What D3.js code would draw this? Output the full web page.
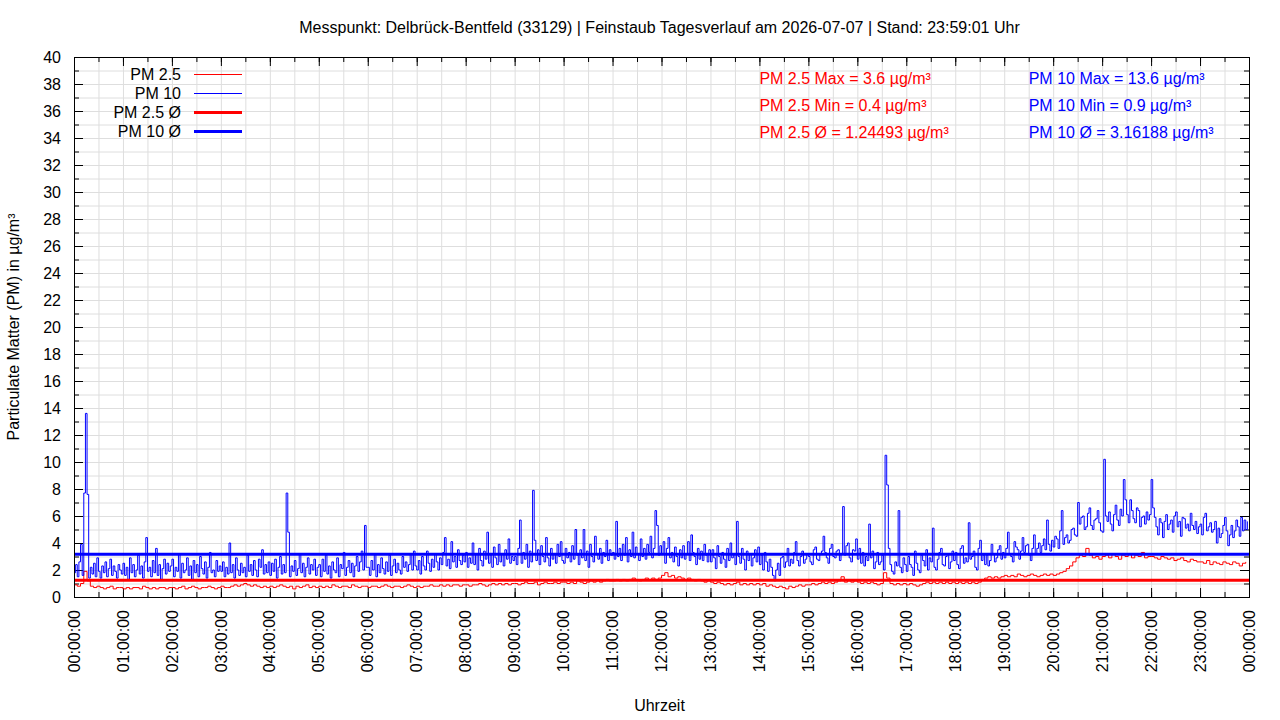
<!DOCTYPE html>
<html>
<head>
<meta charset="utf-8">
<script src="https://cdn.jsdelivr.net/npm/d3@7"></script>
<style>
  body { margin: 0; background: #fff; }
  text { font-family: "Liberation Sans", Arial, sans-serif; font-size: 16px; fill: #000; }
  .grid line { stroke: #dedede; stroke-width: 1; }
  .grid path { display: none; }
  .ax path { display: none; }
  .ax line { stroke: #000; }
</style>
</head>
<body>
<svg id="chart" width="1280" height="720"></svg>
<script>
// --- data ---
const day = "2026-07-07";
const pm10StepMinutes = 2;   // one PM10 sample every 2 minutes, one row per hour
const pm25StepMinutes = 4;   // one PM2.5 sample every 4 minutes, one row per hour

const pm10 = [
  1.8, 2.4, 1.5, 2.6, 3.9, 1.6, 7.7, 13.6, 7.6, 1.4, 2.2, 1.7, 2.5, 1.5, 2.9, 1.9, 1.4, 2.3, 1.8, 2.6, 1.5, 2.1, 2.8, 1.6, 2.3, 1.9, 1.4, 2.4, 2.0, 1.7,
  2.5, 1.6, 2.2, 1.3, 2.9, 1.8, 2.4, 1.5, 2.0, 3.1, 1.7, 2.3, 1.4, 2.6, 4.4, 1.9, 2.2, 1.5, 2.7, 1.8, 3.6, 1.6, 2.4, 1.3, 2.1, 2.8, 1.7, 2.5, 1.9, 2.3,
  2.8, 1.5, 2.2, 1.9, 3.2, 1.4, 2.5, 1.8, 2.0, 2.9, 1.6, 2.3, 1.3, 2.7, 1.8, 2.4, 1.5, 3.0, 2.1, 1.7, 2.6, 1.4, 2.2, 3.3, 1.8, 2.0, 1.5, 2.7, 1.9, 2.3,
  1.9, 2.6, 1.5, 2.2, 1.7, 4.0, 1.8, 2.4, 1.4, 2.9, 2.0, 1.6, 2.5, 1.8, 2.2, 1.5, 3.1, 1.9, 2.4, 1.6, 2.7, 2.0, 1.5, 2.8, 2.2, 3.5, 1.7, 2.4, 1.8, 2.6,
  1.6, 2.5, 1.9, 2.8, 1.4, 2.2, 3.0, 1.7, 2.4, 1.8, 7.7, 4.8, 1.5, 2.3, 1.9, 2.7, 1.6, 2.1, 3.2, 1.8, 2.5, 1.5, 2.2, 2.9, 1.7, 2.4, 2.0, 2.8, 1.6, 2.2,
  2.4, 1.5, 2.8, 1.9, 3.1, 1.7, 2.3, 1.4, 2.6, 2.0, 1.8, 2.9, 1.5, 2.4, 2.1, 3.3, 1.6, 2.2, 2.7, 1.8, 2.5, 1.5, 2.3, 3.0, 1.9, 2.6, 3.4, 2.0, 5.3, 2.2,
  2.2, 1.6, 2.7, 2.0, 3.2, 1.5, 2.4, 1.8, 2.9, 2.1, 1.7, 2.6, 1.9, 3.1, 1.6, 2.3, 2.8, 1.8, 2.5, 2.0, 1.7, 3.0, 2.2, 2.6, 1.9, 2.4, 3.2, 2.0, 3.4, 2.3,
  2.0, 2.7, 1.7, 3.0, 2.3, 2.0, 3.4, 2.5, 1.9, 2.8, 2.2, 3.2, 2.6, 2.0, 2.9, 2.4, 3.3, 4.4, 2.3, 2.8, 2.1, 4.1, 2.6, 3.0, 2.2, 3.5, 2.7, 2.4, 3.1, 2.6,
  3.3, 2.2, 2.9, 2.5, 4.0, 2.4, 3.2, 2.0, 3.6, 2.7, 2.3, 3.4, 2.8, 4.8, 2.5, 3.1, 2.2, 3.7, 2.9, 2.4, 3.9, 2.6, 3.2, 2.3, 3.5, 2.8, 4.3, 2.5, 3.0, 2.7,
  3.0, 2.4, 3.6, 5.7, 2.5, 3.3, 2.8, 3.9, 2.2, 3.4, 2.6, 7.9, 4.2, 2.7, 3.5, 2.4, 3.8, 3.0, 2.6, 4.4, 2.9, 2.3, 3.6, 2.8, 3.2, 2.5, 3.9, 3.0, 4.1, 2.7,
  2.5, 3.6, 2.9, 3.3, 2.6, 3.8, 2.8, 5.0, 3.1, 2.4, 3.5, 2.9, 5.0, 2.7, 3.4, 2.2, 3.9, 3.0, 2.6, 4.5, 3.2, 2.8, 3.6, 2.5, 3.3, 3.0, 4.2, 2.7, 3.5, 3.1,
  3.3, 2.8, 5.6, 3.0, 3.6, 2.7, 3.9, 3.1, 4.4, 2.6, 3.5, 3.0, 4.8, 2.9, 3.7, 3.2, 2.7, 4.3, 3.0, 3.6, 2.8, 3.9, 3.3, 4.5, 2.9, 3.6, 6.4, 5.3, 3.1, 3.8,
  3.2, 4.1, 2.5, 3.6, 4.4, 2.9, 3.3, 2.6, 3.7, 3.0, 2.3, 3.5, 2.9, 3.8, 2.8, 3.2, 4.1, 2.7, 4.6, 3.3, 3.0, 2.4, 3.6, 2.8, 3.4, 2.7, 3.9, 3.1, 2.6, 3.5,
  2.6, 3.5, 2.9, 2.1, 3.8, 3.0, 2.5, 3.3, 2.8, 2.2, 3.6, 2.7, 4.0, 2.9, 3.2, 2.4, 5.6, 3.0, 2.5, 3.6, 2.8, 2.0, 3.4, 2.7, 3.2, 2.3, 2.9, 3.5, 2.6, 3.7,
  2.4, 3.1, 2.0, 3.3, 2.6, 1.9, 2.8, 2.2, 1.6, 1.2, 2.0, 2.5, 1.6, 2.9, 3.0, 2.2, 2.6, 3.6, 2.3, 2.8, 2.5, 3.3, 4.1, 2.7, 2.3, 3.0, 3.4, 2.5, 2.8, 3.2,
  3.0, 2.6, 2.4, 3.5, 3.7, 2.8, 2.7, 3.2, 3.4, 4.5, 3.3, 2.9, 2.5, 3.6, 3.9, 3.0, 2.9, 3.4, 3.5, 2.7, 3.2, 6.7, 3.1, 3.8, 4.0, 2.9, 2.6, 3.5, 3.4, 4.3,
  2.8, 3.6, 2.5, 3.3, 2.3, 3.0, 2.7, 5.4, 2.9, 3.4, 2.1, 2.6, 3.3, 2.4, 2.6, 3.1, 2.0, 10.5, 8.3, 3.6, 2.4, 1.9, 1.7, 2.6, 2.3, 6.4, 2.2, 1.8, 2.9, 2.4,
  1.9, 3.0, 2.4, 2.2, 1.6, 3.4, 2.5, 2.0, 1.8, 3.1, 2.7, 2.3, 3.5, 2.0, 2.9, 2.6, 5.1, 2.2, 2.0, 2.8, 3.3, 3.6, 2.4, 2.3, 3.0, 3.2, 2.1, 2.6, 3.4, 2.7,
  3.3, 2.4, 2.1, 3.6, 3.8, 2.5, 2.9, 2.6, 5.5, 2.8, 3.0, 3.4, 2.2, 2.0, 3.6, 4.2, 2.7, 3.1, 2.4, 3.1, 2.3, 2.7, 3.9, 3.2, 2.6, 2.9, 3.5, 3.8, 2.8, 3.3,
  2.9, 3.6, 4.8, 3.2, 3.0, 2.6, 4.1, 3.7, 3.5, 2.8, 3.4, 4.4, 3.3, 3.8, 3.9, 3.1, 2.7, 3.6, 4.6, 3.2, 3.6, 4.0, 3.3, 3.8, 4.3, 3.5, 5.7, 3.9, 3.4, 4.2,
  3.7, 4.5, 4.3, 3.6, 4.9, 6.4, 3.9, 4.4, 4.6, 4.0, 4.2, 5.0, 5.1, 4.6, 4.5, 7.0, 5.4, 5.9, 6.0, 5.0, 5.2, 6.2, 6.6, 5.3, 5.0, 5.7, 5.8, 6.4, 5.5, 4.9,
  4.8, 10.2, 6.0, 5.6, 6.3, 5.4, 4.9, 6.1, 6.8, 5.7, 5.3, 6.5, 6.0, 8.7, 7.2, 6.1, 5.5, 7.2, 6.4, 5.8, 5.5, 6.6, 6.4, 5.2, 5.9, 6.0, 5.4, 6.3, 5.7, 6.1,
  8.7, 6.6, 5.9, 5.2, 4.6, 5.8, 5.5, 4.4, 5.6, 6.1, 5.0, 5.4, 5.7, 4.8, 6.0, 6.3, 5.2, 5.6, 4.5, 5.9, 5.8, 5.1, 5.4, 4.9, 6.2, 5.3, 5.0, 5.6, 4.7, 5.2,
  5.4, 4.6, 5.9, 6.2, 4.9, 5.2, 5.5, 4.8, 5.0, 5.6, 4.0, 5.1, 4.4, 4.7, 5.3, 5.9, 4.9, 3.8, 4.6, 5.3, 4.4, 4.9, 5.7, 5.2, 4.5, 5.9, 4.9, 5.7, 5.0, 5.6
];

const pm25 = [
  0.9, 0.8, 1.0, 1.9, 1.2, 0.8, 0.7, 0.8, 0.7, 0.6, 0.7, 0.8, 0.6, 0.7, 0.7,
  0.6, 0.7, 0.6, 0.7, 0.7, 0.6, 0.8, 0.7, 0.6, 0.7, 0.6, 0.7, 0.7, 0.6, 0.7,
  0.7, 0.6, 0.7, 0.8, 0.6, 0.7, 0.8, 0.7, 0.6, 0.7, 0.7, 0.8, 0.7, 0.6, 0.7,
  0.8, 0.7, 0.7, 0.8, 0.9, 0.8, 0.9, 1.0, 0.9, 0.8, 0.9, 0.8, 0.7, 0.8, 0.7,
  0.8, 0.7, 0.8, 0.9, 0.8, 0.7, 0.8, 0.6, 0.8, 0.7, 0.8, 0.9, 0.7, 0.8, 0.7,
  0.8, 0.7, 0.8, 0.7, 0.9, 0.8, 0.7, 0.8, 0.8, 0.7, 0.9, 0.8, 0.7, 0.8, 0.8,
  0.7, 0.8, 0.8, 0.7, 0.8, 0.9, 0.8, 0.7, 0.8, 0.8, 0.7, 0.8, 0.9, 0.8, 0.7,
  0.8, 0.7, 0.8, 0.8, 0.9, 0.8, 0.8, 0.9, 0.8, 0.9, 0.8, 0.9, 0.9, 0.8, 0.9,
  0.9, 0.8, 0.9, 0.9, 1.0, 0.9, 0.8, 0.9, 1.0, 0.9, 1.0, 0.9, 1.0, 0.9, 1.0,
  1.0, 0.9, 1.0, 1.1, 1.0, 1.0, 1.1, 0.9, 1.0, 1.1, 1.0, 1.0, 1.1, 1.0, 1.1,
  1.1, 1.0, 1.1, 1.0, 1.2, 1.1, 1.0, 1.1, 1.2, 1.1, 1.2, 1.1, 1.2, 1.3, 1.2,
  1.2, 1.3, 1.2, 1.3, 1.2, 1.3, 1.4, 1.3, 1.2, 1.3, 1.4, 1.3, 1.4, 1.3, 1.4,
  1.6, 1.8, 1.5, 1.6, 1.4, 1.5, 1.4, 1.3, 1.4, 1.3, 1.2, 1.3, 1.2, 1.1, 1.2,
  1.1, 1.0, 1.1, 1.0, 0.9, 1.0, 0.9, 1.0, 1.1, 0.9, 1.0, 0.9, 1.0, 0.9, 1.0,
  0.9, 1.0, 0.8, 0.9, 0.8, 0.7, 0.8, 0.7, 0.6, 0.8, 0.7, 0.8, 0.9, 0.8, 0.9,
  0.9, 1.0, 0.9, 1.0, 1.1, 1.0, 1.1, 1.0, 1.1, 1.2, 1.5, 1.1, 1.2, 1.1, 1.2,
  1.1, 1.0, 1.1, 1.0, 1.1, 1.0, 0.9, 1.0, 1.8, 1.4, 1.0, 0.9, 1.0, 0.9, 1.0,
  0.9, 1.0, 0.9, 0.8, 0.9, 1.0, 1.1, 1.0, 1.1, 1.0, 1.1, 1.0, 1.1, 1.0, 1.1,
  1.0, 1.1, 1.0, 1.1, 1.0, 1.1, 1.0, 1.1, 1.3, 1.4, 1.5, 1.4, 1.5, 1.4, 1.5,
  1.6, 1.5, 1.6, 1.5, 1.7, 1.6, 1.5, 1.6, 1.7, 1.6, 1.5, 1.6, 1.7, 1.6, 1.7,
  1.6, 1.7, 1.8, 1.9, 2.1, 2.3, 2.6, 2.9, 3.1, 3.0, 3.6, 3.1, 2.9, 3.0, 2.8,
  3.0, 3.1, 2.9, 3.2, 3.0, 2.8, 3.1, 3.0, 3.2, 2.9, 3.1, 3.0, 3.3, 2.9, 3.0,
  3.0, 2.9, 2.8, 3.0, 2.9, 2.8, 2.9, 2.7, 2.8, 2.9, 2.7, 2.6, 2.8, 2.7, 2.6,
  2.6, 2.5, 2.7, 2.4, 2.6, 2.5, 2.4, 2.6, 2.5, 2.4, 2.6, 2.5, 2.3, 2.5, 2.6
];

const pm25Avg = 1.24493;
const pm10Avg = 3.16188;

const pm25Stats = ["PM 2.5 Max = 3.6 µg/m³", "PM 2.5 Min = 0.4 µg/m³", "PM 2.5 Ø = 1.24493 µg/m³"];
const pm10Stats = ["PM 10 Max = 13.6 µg/m³", "PM 10 Min = 0.9 µg/m³", "PM 10 Ø = 3.16188 µg/m³"];
const legendLabels = ["PM 2.5", "PM 10", "PM 2.5 Ø", "PM 10 Ø"];

const title = "Messpunkt: Delbrück-Bentfeld (33129) | Feinstaub Tagesverlauf am " + day + " | Stand: 23:59:01 Uhr";

// --- layout ---
var margin = {top: 57, right: 31, bottom: 123, left: 74};
var width = 1280 - margin.left - margin.right;
var height = 720 - margin.top - margin.bottom;

var svg = d3.select("#chart");
var g = svg.append("g").attr("transform", `translate(${margin.left},${margin.top})`);

var t0 = d3.timeParse("%Y-%m-%d")(day);
var t1 = d3.timeDay.offset(t0, 1);

var x = d3.scaleTime().domain([t0, t1]).range([0, width]);
var y = d3.scaleLinear().domain([0, 40]).range([height, 0]);

var hourTicks = d3.timeHour.every(1).range(t0, d3.timeMinute.offset(t1, 1));
var halfTicks = d3.timeMinute.every(30).range(t0, d3.timeMinute.offset(t1, 1));
var yMajor = d3.range(0, 41, 2);
var yMinor = d3.range(0, 41, 1);

// grid
g.append("g").attr("class", "grid")
  .attr("transform", `translate(0,${height})`)
  .call(d3.axisBottom(x).tickValues(halfTicks.slice(1, -1)).tickSize(-height).tickFormat(""));
g.append("g").attr("class", "grid")
  .call(d3.axisLeft(y).tickValues(yMinor.slice(1, -1)).tickSize(-width).tickFormat(""));

// ticks, all four sides, pointing in
g.append("g").attr("class", "ax").attr("transform", `translate(0,${height})`)
  .call(d3.axisBottom(x).tickValues(halfTicks).tickSize(-5).tickFormat(""));
g.append("g").attr("class", "ax").attr("transform", `translate(0,0)`)
  .call(d3.axisTop(x).tickValues(halfTicks).tickSize(-5).tickFormat(""));
g.append("g").attr("class", "ax")
  .call(d3.axisLeft(y).tickValues(yMinor).tickSize(-5).tickFormat(""));
g.append("g").attr("class", "ax").attr("transform", `translate(${width},0)`)
  .call(d3.axisRight(y).tickValues(yMinor).tickSize(-5).tickFormat(""));

var xAxis = g.append("g").attr("class", "ax").attr("transform", `translate(0,${height})`)
  .call(d3.axisBottom(x).tickValues(hourTicks).tickSize(-9).tickFormat(d3.timeFormat("%H:%M:%S")));
xAxis.selectAll("text")
  .attr("transform", "rotate(-90)")
  .attr("text-anchor", "end")
  .attr("x", -13)
  .attr("y", 0)
  .attr("dy", "0.32em");
g.append("g").attr("class", "ax")
  .call(d3.axisTop(x).tickValues(hourTicks).tickSize(-9).tickFormat(""));
g.append("g").attr("class", "ax")
  .call(d3.axisLeft(y).tickValues(yMajor).tickSize(-9).tickPadding(13));
g.append("g").attr("class", "ax").attr("transform", `translate(${width},0)`)
  .call(d3.axisRight(y).tickValues(yMajor).tickSize(-9).tickFormat(""));

g.selectAll(".ax text").style("font-size", "16px").style("fill", "#000")
  .style("font-family", '"Liberation Sans", Arial, sans-serif');

// series (each reading held until the next one)
const stepLine = step => d3.line()
  .curve(d3.curveStepAfter)
  .x((d, i) => x(d3.timeMinute.offset(t0, i * step)))
  .y(d => y(d));

g.append("path").datum(pm25)
  .attr("fill", "none").attr("stroke", "#ff0000").attr("stroke-width", 1)
  .attr("d", stepLine(pm25StepMinutes));
g.append("path").datum(pm10)
  .attr("fill", "none").attr("stroke", "#0000ff").attr("stroke-width", 1)
  .attr("d", stepLine(pm10StepMinutes));

// averages
[[pm25Avg, "#ff0000"], [pm10Avg, "#0000ff"]].forEach(([v, c]) => {
  g.append("line")
    .attr("x1", x(t0)).attr("x2", x(t1))
    .attr("y1", y(v)).attr("y2", y(v))
    .attr("stroke", c).attr("stroke-width", 3);
});

// border
g.append("rect")
  .attr("x", 0.5).attr("y", 0.5)
  .attr("width", width).attr("height", height)
  .attr("fill", "none").attr("stroke", "#000").attr("stroke-width", 1);

// legend
var legendStyle = [
  {c: "#ff0000", w: 1}, {c: "#0000ff", w: 1}, {c: "#ff0000", w: 3}, {c: "#0000ff", w: 3}
];
var legend = svg.append("g");
legendLabels.forEach((lab, i) => {
  var cy = 74 + i * 19;
  legend.append("text")
    .attr("x", 181).attr("y", cy).attr("dy", "0.35em")
    .attr("text-anchor", "end").text(lab);
  legend.append("line")
    .attr("x1", 194).attr("x2", 242)
    .attr("y1", cy + 0.5).attr("y2", cy + 0.5)
    .attr("stroke", legendStyle[i].c).attr("stroke-width", legendStyle[i].w);
});

// statistics labels
var statX25 = d3.timeHour.offset(t0, 14);
var statX10 = d3.timeMinute.offset(t0, 19 * 60 + 30);
[38, 36, 34].forEach((v, i) => {
  g.append("text").attr("x", x(statX25)).attr("y", y(v))
    .style("fill", "#ff0000").text(pm25Stats[i]);
  g.append("text").attr("x", x(statX10)).attr("y", y(v))
    .style("fill", "#0000ff").text(pm10Stats[i]);
});

// titles
svg.append("text")
  .attr("x", margin.left + width / 2 - 2).attr("y", 33)
  .attr("text-anchor", "middle").text(title);

svg.append("text")
  .attr("x", margin.left + width / 2 - 2).attr("y", 711)
  .attr("text-anchor", "middle").text("Uhrzeit");

svg.append("text")
  .attr("transform", `translate(19,${margin.top + height / 2}) rotate(-90)`)
  .attr("text-anchor", "middle").text("Particulate Matter (PM) in µg/m³");
</script>
</body>
</html>
